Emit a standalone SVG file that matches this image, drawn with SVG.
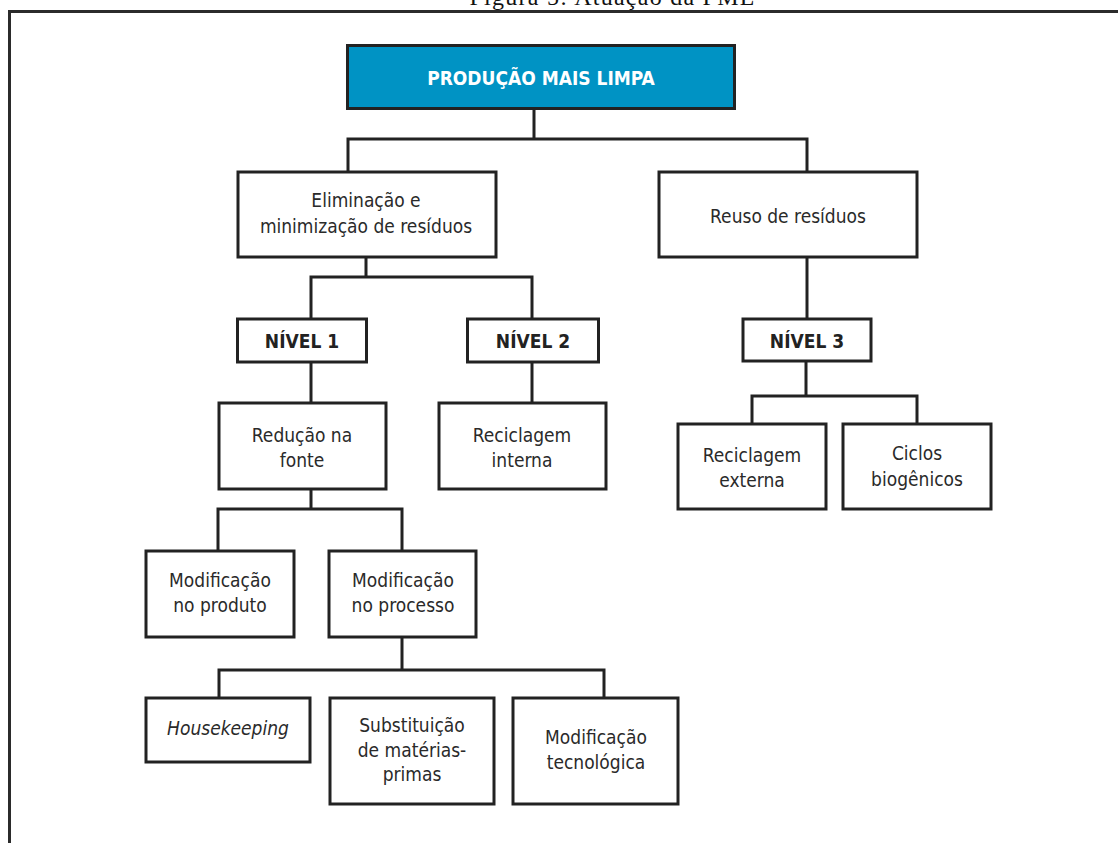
<svg xmlns="http://www.w3.org/2000/svg" width="1118" height="843" viewBox="0 0 1118 843">
<style>
.box{fill:#fff;stroke:#222;stroke-width:3}
.main{fill:#0093C4;stroke:#222;stroke-width:3}
.t{font-family:"DejaVu Sans Condensed","DejaVu Sans",sans-serif;font-size:19px;fill:#2a2a2a;text-anchor:middle}
.b{font-family:"DejaVu Sans Condensed","DejaVu Sans",sans-serif;font-size:19px;font-weight:bold;fill:#222;text-anchor:middle}
.w{font-family:"DejaVu Sans Condensed","DejaVu Sans",sans-serif;font-size:19px;font-weight:bold;fill:#fff;text-anchor:middle}
.i{font-style:italic}
.c{fill:none;stroke:#222;stroke-width:3}
</style>
<rect width="1118" height="843" fill="#fff"/>
<text x="612" y="5" font-family="Liberation Serif,serif" font-size="24" text-anchor="middle" fill="#111" textLength="285">Figura 5: Atuação da PML</text>
<path d="M9.5,843 V11.5 H1118" fill="none" stroke="#2b2b2b" stroke-width="3"/>
<g id="connectors">
<path class="c" d="M534,109 V139 M348,172 V139 H807 V172"/>
<path class="c" d="M366,257 V277 M311,319 V277 H532 V319"/>
<path class="c" d="M807,257 V319"/>
<path class="c" d="M311,362 V403"/>
<path class="c" d="M532,362 V403"/>
<path class="c" d="M806,361 V396 M752,424 V396 H917 V424"/>
<path class="c" d="M311,489 V509 M218,551 V509 H402 V551"/>
<path class="c" d="M402,637 V670 M219,698 V670 H604 V698"/>
</g>
<g id="n-pml"><rect class="main" x="347.5" y="45.5" width="387" height="63"/><text class="w" x="541" y="85">PRODUÇÃO MAIS LIMPA</text></g>
<g id="n-elim"><rect class="box" x="238" y="172" width="258" height="85"/><text class="t" x="366" y="207">Eliminação e</text><text class="t" x="366" y="233">minimização de resíduos</text></g>
<g id="n-reuso"><rect class="box" x="659" y="172" width="258" height="85"/><text class="t" x="788" y="223">Reuso de resíduos</text></g>
<g id="n-nivel1"><rect class="box" x="237.5" y="319" width="129" height="43"/><text class="b" x="302" y="348">NÍVEL 1</text></g>
<g id="n-nivel2"><rect class="box" x="467.5" y="319" width="131" height="43"/><text class="b" x="533" y="348">NÍVEL 2</text></g>
<g id="n-nivel3"><rect class="box" x="743" y="319" width="128" height="42"/><text class="b" x="807" y="348">NÍVEL 3</text></g>
<g id="n-reducao"><rect class="box" x="219" y="403" width="167" height="86"/><text class="t" x="302" y="442">Redução na</text><text class="t" x="302" y="467">fonte</text></g>
<g id="n-recint"><rect class="box" x="439" y="403" width="167" height="86"/><text class="t" x="522" y="442">Reciclagem</text><text class="t" x="522" y="467">interna</text></g>
<g id="n-recext"><rect class="box" x="678" y="424" width="148" height="85"/><text class="t" x="752" y="462">Reciclagem</text><text class="t" x="752" y="487">externa</text></g>
<g id="n-ciclos"><rect class="box" x="843" y="424" width="148" height="85"/><text class="t" x="917" y="460">Ciclos</text><text class="t" x="917" y="486">biogênicos</text></g>
<g id="n-prod"><rect class="box" x="146" y="551" width="148" height="86"/><text class="t" x="220" y="587">Modificação</text><text class="t" x="220" y="612">no produto</text></g>
<g id="n-proc"><rect class="box" x="329" y="551" width="147" height="86"/><text class="t" x="403" y="587">Modificação</text><text class="t" x="403" y="612">no processo</text></g>
<g id="n-house"><rect class="box" x="146" y="698" width="164" height="64"/><text class="t i" x="228" y="735">Housekeeping</text></g>
<g id="n-subst"><rect class="box" x="330" y="698" width="164" height="106"/><text class="t" x="412" y="732">Substituição</text><text class="t" x="412" y="757">de matérias-</text><text class="t" x="412" y="781">primas</text></g>
<g id="n-tecno"><rect class="box" x="513" y="698" width="165" height="106"/><text class="t" x="596" y="744">Modificação</text><text class="t" x="596" y="769">tecnológica</text></g>
</svg>
